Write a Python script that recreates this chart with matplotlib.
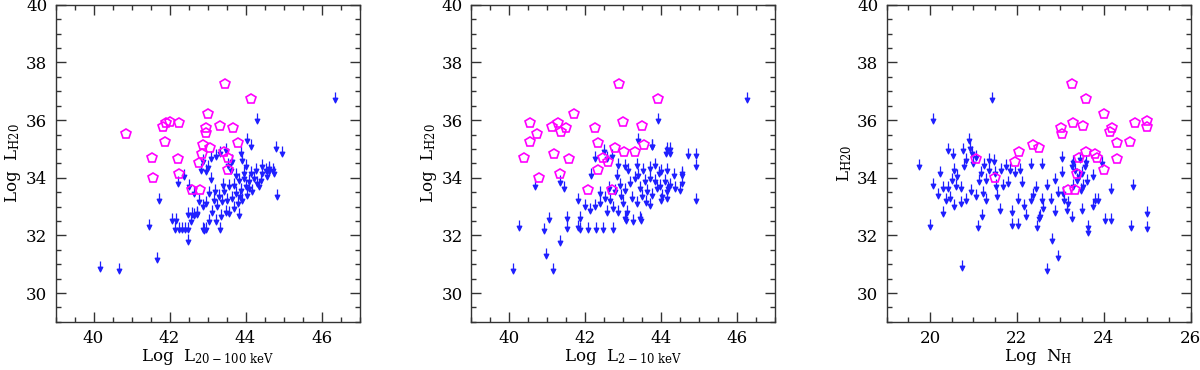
import numpy as np
import matplotlib
matplotlib.use("Agg")
import matplotlib.pyplot as plt
from matplotlib.path import Path
from matplotlib.ticker import MultipleLocator

plt.rcParams["font.family"] = ["DejaVu Serif"]
plt.rcParams["mathtext.fontset"] = "dejavuserif"

# ---- panel 1 : L(20-100 keV) ----
p1_up_x = [40.18, 40.67, 41.67, 41.47, 41.72, 42.49, 46.35, 44.29, 42.23, 42.37, 42.52,
           42.14, 42.26, 42.33, 42.40, 42.48, 42.07, 42.17, 42.48, 42.59, 42.72, 42.89, 42.95, 43.32,
           44.05, 44.14, 44.81, 44.95, 43.87, 43.92, 43.48, 43.33, 43.22, 43.08, 42.87, 42.82, 42.95,
           43.65, 44.00, 44.14, 44.27, 44.44, 44.62, 44.71, 44.44, 44.53, 43.61, 43.74, 43.83, 43.96,
           44.09, 44.22, 44.31, 44.40, 44.00, 43.87, 43.74, 43.57, 43.44, 43.30, 43.17, 43.04, 42.95,
           42.87, 42.73, 42.65, 42.56, 42.65, 42.78, 43.13, 43.26, 43.39, 43.52, 43.65, 43.79, 43.92,
           44.05, 44.18, 43.48, 43.35, 43.22, 43.04, 42.91, 43.57, 43.70, 43.83, 44.84, 44.57, 44.75,
           44.62, 43.10, 43.40, 43.55, 43.70, 43.85, 44.10, 43.20, 43.00, 44.35, 43.95]
p1_up_y = [31.10, 31.04, 31.42, 32.58, 33.48, 32.05, 36.96, 36.26, 34.05, 34.30, 33.95,
           32.46, 32.46, 32.46, 32.46, 32.46, 32.78, 32.78, 33.00, 33.00, 33.00, 32.46, 32.46, 32.46,
           35.54, 35.34, 35.28, 35.10, 35.10, 34.87, 35.22, 35.10, 34.99, 34.93, 34.81, 34.52, 34.47,
           34.81, 34.64, 34.41, 34.52, 34.41, 34.58, 34.52, 34.64, 34.52, 34.52, 34.35, 34.18, 34.23,
           34.12, 34.23, 34.06, 34.18, 33.94, 33.83, 33.71, 33.94, 33.77, 33.60, 33.48, 33.71, 33.36,
           33.25, 33.02, 32.96, 32.73, 33.71, 33.42, 33.07, 33.25, 33.42, 33.48, 33.54, 33.36, 33.48,
           33.65, 33.77, 33.07, 32.90, 32.73, 32.73, 32.44, 33.02, 33.19, 32.96, 33.60, 34.29, 34.41,
           34.47, 34.20, 34.00, 34.70, 34.00, 33.60, 33.90, 33.80, 34.60, 33.95, 34.40]
p1_det_x = [40.86, 41.53, 41.57, 41.82, 41.90, 42.02, 41.89, 42.25, 42.23, 42.25, 42.59, 42.81,
            42.78, 42.86, 42.87, 42.95, 42.96, 43.01, 43.06, 43.32, 43.46, 43.44, 43.53, 43.54,
            43.66, 43.80, 44.14]
p1_det_y = [35.53, 34.70, 34.00, 35.77, 35.89, 35.95, 35.23, 35.89, 34.66, 34.14, 33.58, 33.58,
            34.52, 34.81, 35.14, 35.71, 35.57, 36.20, 35.02, 35.80, 37.25, 34.90, 34.69, 34.28,
            35.73, 35.19, 36.74]

# ---- panel 2 : L(2-10 keV) ----
p2_up_x = [40.11, 40.26, 40.93, 40.98, 41.16, 41.06, 41.35, 40.68, 41.33, 41.44, 41.52, 41.52,
           46.27, 43.92, 43.76, 44.16, 44.25, 44.70, 44.92, 44.92, 44.92, 44.56, 44.55, 44.00, 44.16,
           44.19, 43.07, 43.47,
           43.39, 43.77, 44.12, 44.24, 42.26, 42.51, 42.57, 42.70, 42.88, 42.17, 43.05, 43.14, 43.36,
           43.40, 43.54, 43.71, 43.84, 43.99, 44.15, 44.33, 44.55, 41.82, 42.00, 42.13, 42.26, 42.39,
           42.52, 42.66, 42.79, 42.92, 43.05, 43.18, 43.32, 43.45, 43.58, 43.71, 43.84, 43.98, 44.11,
           44.24, 44.37, 44.50, 41.86, 41.82, 41.88, 42.08, 42.29, 42.48, 42.73, 42.57, 42.74, 42.88,
           43.01, 43.10, 43.23, 43.36, 43.49, 43.62, 43.76, 43.89, 44.02, 44.15, 43.05, 43.45, 43.71,
           43.27, 42.95, 42.85, 43.60, 42.62, 42.40, 43.95]
p2_up_y = [31.04, 32.55, 32.44, 31.57, 31.04, 32.81, 32.03, 33.94, 34.08, 33.89, 32.84, 32.49,
           36.96, 36.26, 35.36, 35.24, 35.24, 35.05, 35.05, 34.64, 33.48, 34.41, 34.06, 33.48, 33.54,
           33.89, 32.78, 32.78,
           35.57, 35.34, 35.10, 35.10, 34.93, 35.16, 34.93, 34.99, 34.70, 34.35, 34.64, 34.52, 34.70,
           34.35, 34.52, 34.58, 34.70, 34.47, 34.52, 34.35, 34.35, 33.48, 33.25, 33.13, 33.25, 33.36,
           33.54, 33.48, 33.77, 34.00, 33.83, 34.06, 34.23, 33.89, 34.12, 34.23, 34.12, 33.94, 34.12,
           34.00, 33.89, 33.83, 32.84, 32.55, 32.45, 32.45, 32.45, 32.45, 32.45, 33.07, 33.19, 33.07,
           33.36, 33.07, 33.54, 33.36, 33.62, 33.77, 33.65, 33.89, 33.62, 33.77, 32.84, 32.84, 33.31,
           32.73, 33.60, 34.30, 33.40, 33.90, 33.70, 34.40]
p2_det_x = [40.40, 40.55, 40.55, 40.74, 40.79, 41.13, 41.18, 41.28, 41.35, 41.37, 41.50, 41.59,
            41.70, 42.09, 42.26, 42.33, 42.35, 42.48, 42.61, 42.71, 42.79, 43.03, 43.32, 43.55,
            43.51, 42.99, 42.89, 43.92]
p2_det_y = [34.70, 35.90, 35.23, 35.53, 34.00, 35.77, 34.81, 35.90, 34.14, 35.58, 35.71, 34.66,
            36.20, 33.58, 35.74, 34.28, 35.19, 34.70, 34.54, 33.58, 35.05, 34.88, 34.88, 35.13,
            35.78, 35.94, 37.25, 36.74]

# ---- panel 3 : N_H ----
p3_up_x = [19.75, 20.00, 20.08, 20.06, 20.18, 20.23, 20.29, 20.31, 20.36, 20.41, 20.42, 20.46,
           20.50, 20.54, 20.55, 20.55, 20.60, 20.63, 20.71, 20.72, 20.74, 20.77, 20.79, 20.84, 20.84,
           20.91, 20.92, 20.97, 21.00, 21.07, 21.10, 21.12, 21.17, 21.19, 21.21, 21.28, 21.30, 21.37,
           21.37, 21.42, 21.48, 21.50, 21.53, 21.55, 21.61, 21.64, 21.69, 21.74, 21.80, 21.84, 21.90,
           21.90, 21.96, 22.03, 22.03, 22.07, 22.12, 22.17, 22.21, 22.32, 22.32, 22.38, 22.44, 22.47,
           22.50, 22.53, 22.59, 22.59, 22.70, 22.70, 22.78, 22.82, 22.88, 22.89, 22.94, 22.95, 23.03,
           23.03, 23.07, 23.09, 23.15, 23.18, 23.26, 23.28, 23.30, 23.38, 23.44, 23.47, 23.49, 23.51,
           23.53, 23.58, 23.62, 23.65, 23.76, 23.76, 23.80, 23.88, 23.95, 24.03, 24.18, 24.18, 24.64,
           24.67, 25.00, 25.00, 23.30, 23.35, 23.45, 23.60, 23.65, 21.05, 21.25, 20.95, 22.60]
p3_up_y = [34.66, 32.58, 36.26, 34.00, 33.65, 34.41, 33.02, 33.89, 33.48, 35.22, 33.89, 33.54,
           34.18, 35.05, 34.52, 33.25, 33.94, 34.29, 33.89, 33.36, 31.16, 35.22, 34.64, 34.87, 33.48,
           35.57, 35.28, 35.10, 34.76, 33.60, 32.55, 34.12, 34.41, 32.90, 33.71, 34.18, 33.48, 34.87,
           34.52, 36.96, 34.81, 34.41, 33.94, 33.60, 33.13, 34.52, 33.94, 34.64, 34.06, 34.52, 33.07,
           32.61, 34.41, 32.61, 33.48, 34.52, 34.06, 33.25, 32.90, 33.48, 34.70, 33.65, 33.89, 32.55,
           32.84, 32.90, 34.70, 33.48, 33.94, 31.05, 33.48, 32.09, 33.07, 34.18, 31.51, 33.71, 34.93,
           34.41, 33.71, 33.48, 33.13, 33.36, 32.84, 34.64, 33.94, 34.18, 34.29, 33.83, 34.41, 33.13,
           33.94, 34.64, 34.12, 32.55, 34.29, 33.25, 33.48, 33.48, 34.76, 32.78, 33.83, 32.78, 32.55,
           33.94, 33.02, 32.49, 34.80, 34.50, 34.90, 34.80, 32.35, 34.95, 34.70, 33.80, 33.20]
p3_det_x = [21.07, 21.49, 21.96, 22.06, 22.37, 22.52, 23.02, 23.03, 23.17, 23.27, 23.30, 23.35,
            23.38, 23.44, 23.52, 23.59, 23.59, 23.81, 23.84, 24.00, 24.00, 24.14, 24.20, 24.30,
            24.30, 24.60, 24.72, 25.00, 25.00]
p3_det_y = [34.66, 34.00, 34.55, 34.90, 35.14, 35.05, 35.74, 35.53, 33.58, 37.25, 35.90, 33.58,
            34.14, 34.70, 35.80, 34.90, 36.74, 34.84, 34.70, 36.20, 34.28, 35.58, 35.71, 35.19,
            34.66, 35.23, 35.90, 35.96, 35.75]

panels = [
    (p1_up_x, p1_up_y, p1_det_x, p1_det_y, (39, 47), r"Log  L$_{\mathrm{20-100\ keV}}$", r"Log  L$_{\mathrm{H20}}$"),
    (p2_up_x, p2_up_y, p2_det_x, p2_det_y, (39, 47), r"Log  L$_{\mathrm{2-10\ keV}}$", r"Log  L$_{\mathrm{H20}}$"),
    (p3_up_x, p3_up_y, p3_det_x, p3_det_y, (19, 26), r"Log  N$_{\mathrm{H}}$", r"L$_{\mathrm{H20}}$"),
]

# down arrow marker, point at the top of the arrow
arrow = Path([(0, 0), (0, -0.6), (-0.22, -0.55), (0.22, -0.55), (0, -1), (-0.22, -0.55)],
             [Path.MOVETO, Path.LINETO, Path.MOVETO, Path.LINETO, Path.LINETO, Path.CLOSEPOLY])

fig = plt.figure(figsize=(12, 3.7), dpi=100)
lefts = [0.0463, 0.3925, 0.7388]
for (ux, uy, dx, dy, xlim, xlab, ylab), left in zip(panels, lefts):
    ax = fig.add_axes([left, 0.13, 0.2533, 0.857])
    ax.plot(ux, uy, ls="none", marker=arrow, ms=15, color="#1f1fff", mec="#1f1fff", mew=0.9)
    ax.plot(dx, dy, ls="none", marker="p", ms=7, mfc="none", mec="#ff00ff", mew=1.2)
    ax.set_xlim(*xlim)
    ax.set_ylim(29, 40)
    ax.xaxis.set_major_locator(MultipleLocator(2))
    ax.xaxis.set_minor_locator(MultipleLocator(0.5))
    ax.yaxis.set_major_locator(MultipleLocator(2))
    ax.yaxis.set_minor_locator(MultipleLocator(0.5))
    ax.tick_params(which="both", direction="in", top=True, right=True, labelsize=12, color="#333333")
    ax.tick_params(which="major", length=7, width=1, pad=6)
    ax.tick_params(which="minor", length=3.5, width=1)
    for s in ax.spines.values():
        s.set_linewidth(1)
        s.set_color("#333333")
    ax.set_xlabel(xlab, fontsize=12, labelpad=0)
    ax.set_ylabel(ylab, fontsize=12, labelpad=2)

fig.savefig("out.png", dpi=100)
